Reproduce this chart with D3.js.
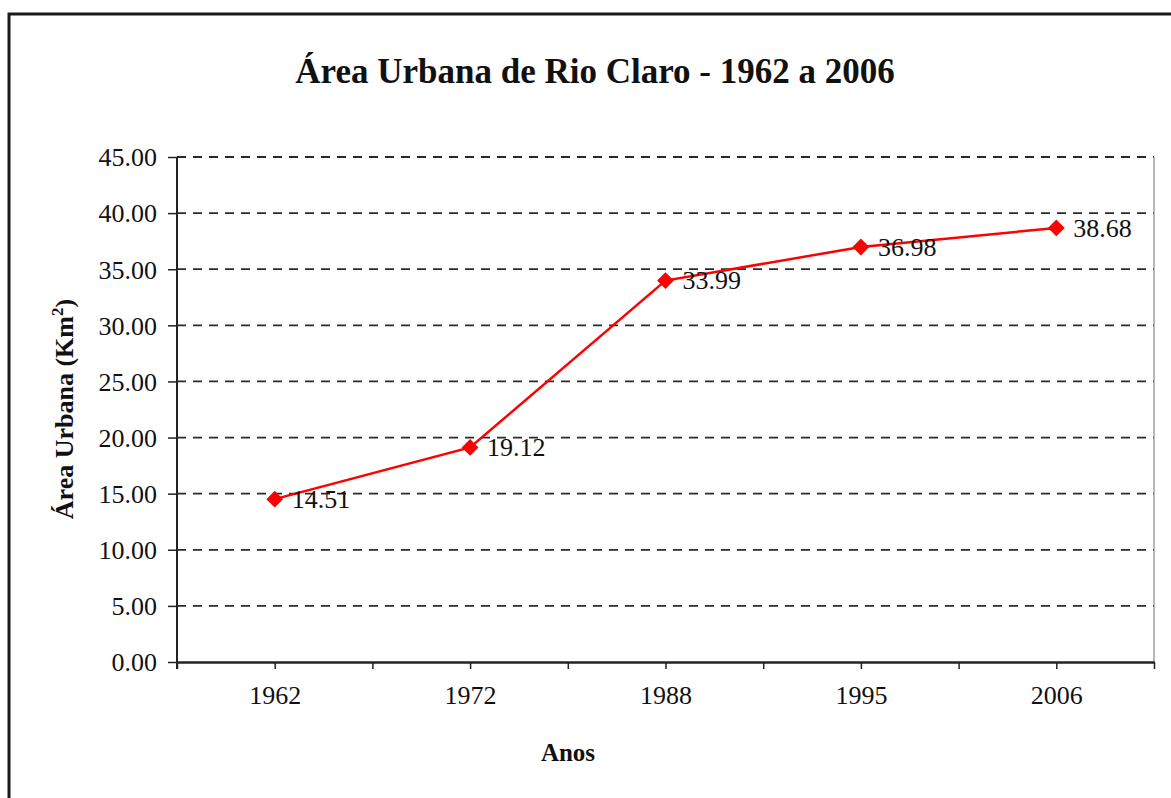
<!DOCTYPE html>
<html>
<head>
<meta charset="utf-8">
<script src="https://cdn.jsdelivr.net/npm/d3@7"></script>
<style>
  body { margin: 0; background: #fff; }
  text { font-family: "Liberation Serif", "Times New Roman", serif; fill: #111; }
</style>
</head>
<body>
<div id="chart"></div>
<script>
// data
let years = ['1962', '1972', '1988', '1995', '2006'];
let areas = [14.51, 19.12, 33.99, 36.98, 38.68];
let yTicks = [0, 5, 10, 15, 20, 25, 30, 35, 40, 45];

let svgWidth = 1171;
let svgHeight = 798;

let margin = { top: 157, right: 17, bottom: 136, left: 177 };
let width = svgWidth - margin.left - margin.right;
let height = svgHeight - margin.top - margin.bottom;

let svg = d3.select('#chart')
    .append('svg')
    .attr('width', svgWidth)
    .attr('height', svgHeight);

// outer frame
svg.append('rect')
    .attr('x', 9)
    .attr('y', 14)
    .attr('width', svgWidth + 20)
    .attr('height', svgHeight + 20)
    .attr('fill', 'none')
    .attr('stroke', '#1a1a1a')
    .attr('stroke-width', 3);

let chartGroup = svg.append('g')
    .attr('transform', `translate(${margin.left}, ${margin.top})`);

// scales
let xBand = d3.scaleBand()
    .domain(years)
    .range([0, width]);

let yScale = d3.scaleLinear()
    .domain([0, 45])
    .range([height, 0]);

// dashed gridlines
chartGroup.selectAll('.grid')
    .data(yTicks.filter(d => d > 0))
    .enter()
    .append('line')
    .attr('x1', 0)
    .attr('x2', width)
    .attr('y1', d => yScale(d))
    .attr('y2', d => yScale(d))
    .attr('stroke', '#2a2a2a')
    .attr('stroke-width', 1.8)
    .attr('stroke-dasharray', '9,7');

// right border of plot
chartGroup.append('line')
    .attr('x1', width)
    .attr('x2', width)
    .attr('y1', 0)
    .attr('y2', height)
    .attr('stroke', '#888')
    .attr('stroke-width', 1.2);

// y axis
let leftAxis = d3.axisLeft(yScale)
    .tickValues(yTicks)
    .tickFormat(d3.format('.2f'))
    .tickSize(9)
    .tickPadding(11)
    .tickSizeOuter(0);

let yAxis = chartGroup.append('g')
    .call(leftAxis);
yAxis.select('.domain')
    .attr('d', `M0,0V${height + 7}`)
    .attr('stroke', '#222')
    .attr('stroke-width', 2);
yAxis.selectAll('.tick line').attr('stroke', '#222').attr('stroke-width', 1.5);
yAxis.selectAll('text')
    .style('font-size', '26px')
    .attr('fill', '#111')
    .attr('dy', '0.34em');

// x axis: ticks at band edges and centres
let xEdge = d3.scaleLinear()
    .domain([0, years.length])
    .range([0, width]);

let bottomAxis = d3.axisBottom(xEdge)
    .tickValues(d3.range(0, years.length * 2 + 1).map(i => i / 2))
    .tickFormat(d => (d % 1 === 0.5) ? years[Math.floor(d)] : '')
    .tickSize(7)
    .tickPadding(17)
    .tickSizeOuter(0);

let xAxis = chartGroup.append('g')
    .attr('transform', `translate(0, ${height})`)
    .call(bottomAxis);
xAxis.select('.domain')
    .attr('stroke', '#222')
    .attr('stroke-width', 2.5);
xAxis.selectAll('.tick line').attr('stroke', '#222').attr('stroke-width', 1.5);
xAxis.selectAll('text')
    .style('font-size', '26px')
    .attr('fill', '#111');

// line
let line = d3.line()
    .x((d, i) => xBand(years[i]) + xBand.bandwidth() / 2)
    .y(d => yScale(d));

chartGroup.append('path')
    .datum(areas)
    .attr('d', line)
    .attr('fill', 'none')
    .attr('stroke', '#ff0000')
    .attr('stroke-width', 2.5);

// diamond markers
chartGroup.selectAll('.marker')
    .data(areas)
    .enter()
    .append('path')
    .attr('d', d3.symbol().type(d3.symbolDiamond2).size(180))
    .attr('transform', (d, i) => `translate(${xBand(years[i]) + xBand.bandwidth() / 2}, ${yScale(d)})`)
    .attr('fill', '#ff0000');

// value labels
chartGroup.selectAll('.valueLabel')
    .data(areas)
    .enter()
    .append('text')
    .attr('x', (d, i) => xBand(years[i]) + xBand.bandwidth() / 2 + 17)
    .attr('y', d => yScale(d))
    .attr('dy', '0.33em')
    .style('font-size', '26px')
    .text(d => d.toFixed(2));

// title
svg.append('text')
    .attr('x', 595)
    .attr('y', 83)
    .attr('text-anchor', 'middle')
    .style('font-size', '35px')
    .style('font-weight', 'bold')
    .text('Área Urbana de Rio Claro - 1962 a 2006');

// x label
svg.append('text')
    .attr('x', 568)
    .attr('y', 761)
    .attr('text-anchor', 'middle')
    .style('font-size', '25px')
    .style('font-weight', 'bold')
    .text('Anos');

// y label
let yLabel = svg.append('text')
    .attr('transform', 'translate(73, 409) rotate(-90)')
    .attr('text-anchor', 'middle')
    .style('font-size', '26px')
    .style('font-weight', 'bold');
yLabel.append('tspan').text('Área Urbana (Km');
yLabel.append('tspan').attr('dy', -10).style('font-size', '17px').text('2');
yLabel.append('tspan').attr('dy', 10).text(')');
</script>
</body>
</html>
